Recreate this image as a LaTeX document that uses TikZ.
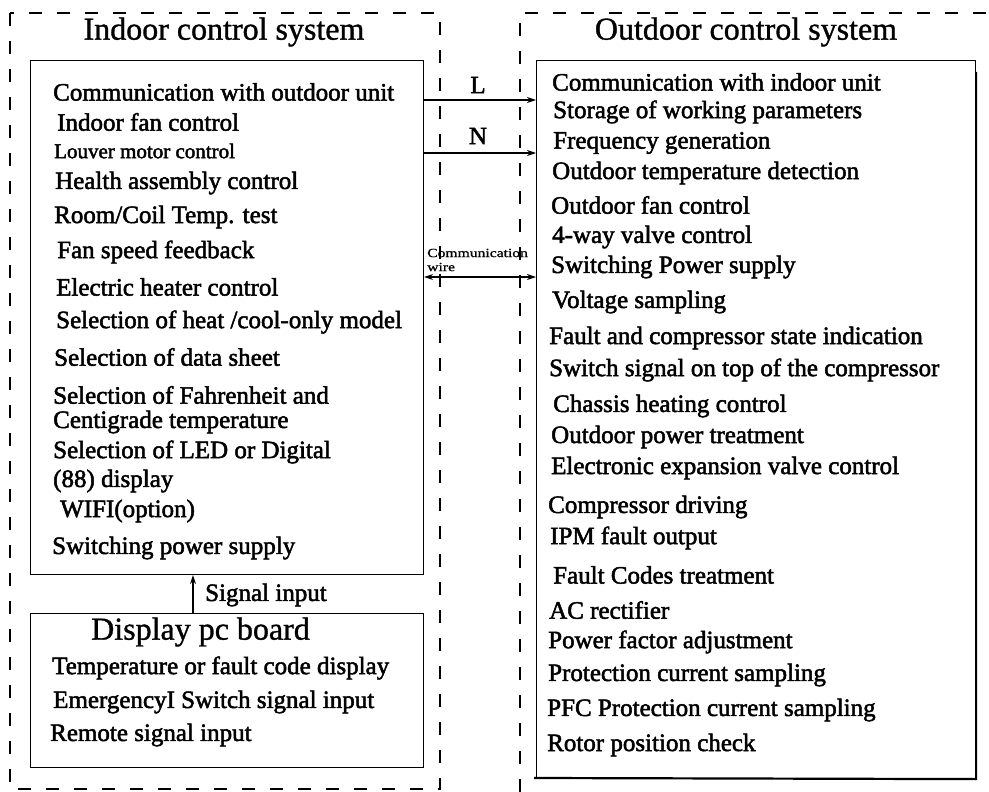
\documentclass[tikz,border=0pt]{standalone}
\usepackage{fontspec}
\setmainfont{Liberation Serif}
\newfontfamily\itemfont[FakeBold=2]{Liberation Serif}
\newfontfamily\titlefont[FakeBold=1]{Liberation Serif}
\usetikzlibrary{arrows.meta}
\tikzset{
  box/.style={draw, line width=1.1pt, inner sep=0pt, anchor=north west},
  dashbox/.style={line width=1.1pt, dash pattern=on 13pt off 15pt},
  item/.style={anchor=west, inner sep=0pt, font=\itemfont\fontsize{25}{26}\selectfont},
  title/.style={inner sep=0pt, font=\titlefont\fontsize{32}{34}\selectfont},
  small/.style={anchor=west, inner sep=0pt, font=\titlefont\fontsize{12.5}{13}\selectfont},
  arr/.style={line width=1.1pt, -{Stealth[length=9pt,width=6pt]}},
  darr/.style={line width=1.1pt, {Stealth[length=9pt,width=6pt]}-{Stealth[length=9pt,width=6pt]}}
}
\begin{document}
\begin{tikzpicture}[x=1pt,y=-1pt]
\useasboundingbox (0,0) rectangle (989,792);
% dashed frames
\draw[dashbox] (10,13) rectangle (440,789);
\draw[dashbox] (520,792) -- (520,13) -- (989,13);
% titles
\node[title] (tin) at (224,32) {Indoor control system};
\node[title] (tout) at (746,32) {Outdoor control system};
% boxes
\node[box, minimum width=393pt, minimum height=514pt] (indoor) at (30,60) {};
\node[box, minimum width=393pt, minimum height=154pt] (display) at (30,613) {};
\node[box, minimum width=439pt, minimum height=718pt] (outdoor) at (536,60) {};
\draw[line width=2.2pt] (534,778) -- (outdoor.south east) -- ([yshift=-12pt]outdoor.north east);
% indoor items
\node[item] (i1) at (53,92) {Communication with outdoor unit};
\node[item] (i2) at (57,122) {Indoor fan control};
\node[item, font=\itemfont\fontsize{21}{22}\selectfont] (i3) at (54,151) {Louver motor control};
\node[item] (i4) at (55,183) {Health assembly control};
\node[item] (i5) at (54,217) {Room/Coil Temp. test};
\node[item] (i6) at (57,252) {Fan speed feedback};
\node[item] (i7) at (56,287) {Electric heater control};
\node[item] (i8) at (56,322) {Selection of heat /cool-only model};
\node[item] (i9) at (54,357) {Selection of data sheet};
\node[item] (i10) at (53,395) {Selection of Fahrenheit and};
\node[item] (i11) at (53,422) {Centigrade temperature};
\node[item] (i12) at (53,452) {Selection of LED or Digital};
\node[item] (i13) at (53,481) {(88) display};
\node[item] (i14) at (60,511) {WIFI(option)};
\node[item] (i15) at (52,548) {Switching power supply};
% display board
\node[title, anchor=west] (dt) at (91,632) {Display pc board};
\node[item] (d1) at (52,668) {Temperature or fault code display};
\node[item] (d2) at (53,702) {EmergencyI Switch signal input};
\node[item] (d3) at (50,735) {Remote signal input};
% outdoor items
\node[item] (o1) at (552,82) {Communication with indoor unit};
\node[item] (o2) at (553,112) {Storage of working parameters};
\node[item] (o3) at (553,143) {Frequency generation};
\node[item] (o4) at (552,173) {Outdoor temperature detection};
\node[item] (o5) at (551,205) {Outdoor fan control};
\node[item] (o6) at (552,237) {4-way valve control};
\node[item] (o7) at (551,267) {Switching Power supply};
\node[item] (o8) at (552,302) {Voltage sampling};
\node[item] (o9) at (549,338) {Fault and compressor state indication};
\node[item] (o10) at (549,370) {Switch signal on top of the compressor};
\node[item] (o11) at (553,406) {Chassis heating control};
\node[item] (o12) at (551,437) {Outdoor power treatment};
\node[item] (o13) at (551,468) {Electronic expansion valve control};
\node[item] (o14) at (548,507) {Compressor driving};
\node[item] (o15) at (550,538) {IPM fault output};
\node[item] (o16) at (553,575) {Fault Codes treatment};
\node[item] (o17) at (549,610) {AC rectifier};
\node[item] (o18) at (548,642) {Power factor adjustment};
\node[item] (o19) at (548,675) {Protection current sampling};
\node[item] (o20) at (547,710) {PFC Protection current sampling};
\node[item] (o21) at (547,745) {Rotor position check};
% connectors
\coordinate (yL) at (0,100);
\coordinate (yN) at (0,153);
\coordinate (yC) at (0,277);
\coordinate (xS) at (193,0);
\node[item, anchor=center] (lL) at (478,85) {L};
\node[item, anchor=center] (lN) at (478,136) {N};
\node[small, xscale=1.25] (lC1) at (427,253) {Communication};
\node[small, xscale=1.25] (lC2) at (427,267) {wire};
\draw[arr] (indoor.east |- yL) -- (outdoor.west |- yL);
\draw[arr] (indoor.east |- yN) -- (outdoor.west |- yN);
\draw[darr] (indoor.east |- yC) -- (outdoor.west |- yC);
\draw[arr] (display.north -| xS) -- (indoor.south -| xS);
\node[item] (lS) at (205,595) {Signal input};
\end{tikzpicture}
\end{document}
